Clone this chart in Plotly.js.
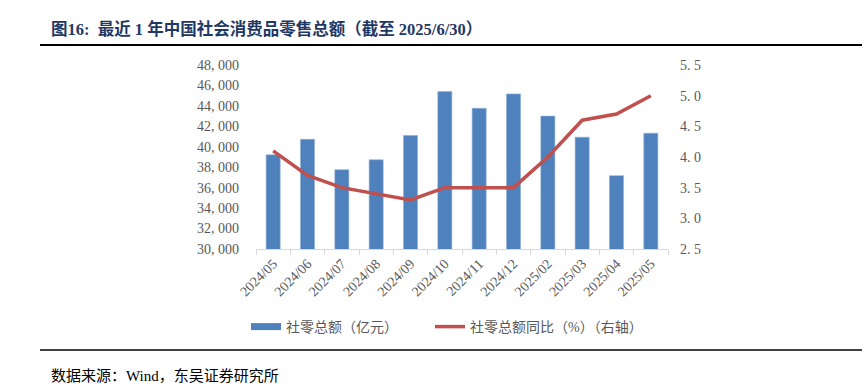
<!DOCTYPE html>
<html>
<head>
<meta charset="utf-8">
<script src="https://cdn.plot.ly/plotly-3.0.1.min.js"></script>
<style>
html,body{margin:0;padding:0;background:#fff;}
#chart{width:867px;height:388px;}
</style>
</head>
<body>
<div id="chart"></div>
<script>
// ---- data ----
const months = ["2024/05","2024/06","2024/07","2024/08","2024/09","2024/10","2024/11","2024/12","2025/02","2025/03","2025/04","2025/05"];
const retailTotal = [39211,40732,37757,38726,41112,45396,43763,45172,43000,40940,37174,41326];
const retailYoY = [4.1,3.7,3.5,3.4,3.3,3.5,3.5,3.5,4.0,4.6,4.7,5.0];
const leftTickVals = [30000,32000,34000,36000,38000,40000,42000,44000,46000,48000];
const leftTickText = ["30, 000","32, 000","34, 000","36, 000","38, 000","40, 000","42, 000","44, 000","46, 000","48, 000"];
const rightTickVals = [2.5,3.0,3.5,4.0,4.5,5.0,5.5];
const rightTickText = ["2. 5","3. 0","3. 5","4. 0","4. 5","5. 0","5. 5"];
const barName = "社零总额（亿元）";
const lineName = "社零总额同比（%）（右轴）";
const titleText = "图16:  最近 1 年中国社会消费品零售总额（截至 2025/6/30）";
const sourceText = "数据来源：Wind，东吴证券研究所";

// ---- layout geometry ----
const W = 867, H = 388;
const L = 256, R = 668, T = 65, B = 249;
const px = x => (x - L) / (R - L);
const py = y => (B - y) / (B - T);

const serif = "Liberation Serif, Noto Sans CJK SC, serif";
const gray = "#595959";
const blue = "#4f81bd";
const red = "#c0504d";

const traces = [
  {type:"bar", x:months, y:retailTotal, name:barName, showlegend:false,
   marker:{color:blue, line:{color:"#8fb0d8", width:0.6}}, yaxis:"y", hoverinfo:"x+y"},
  {type:"scatter", mode:"lines", x:[null], y:[null], name:barName, showlegend:true,
   line:{color:blue, width:7}, yaxis:"y", hoverinfo:"skip"},
  {type:"scatter", mode:"lines", x:months, y:retailYoY, name:lineName,
   line:{color:red, width:3.5}, yaxis:"y2"},
  {type:"scatter", mode:"lines", x:[null], y:[null], name:" ", showlegend:true,
   line:{color:"rgba(0,0,0,0)", width:0}, yaxis:"y", hoverinfo:"skip"}
];

const layout = {
  width:W, height:H,
  margin:{l:L, r:W-R, t:T, b:H-B, pad:0},
  paper_bgcolor:"#fff", plot_bgcolor:"#fff",
  bargap:0.59,
  showlegend:true,
  legend:{orientation:"h", x:px(246), xanchor:"left", y:py(327), yanchor:"middle",
          font:{family:serif, size:14, color:gray}, entrywidth:139, entrywidthmode:"pixels",
          itemwidth:30, traceorder:"normal", bgcolor:"rgba(0,0,0,0)"},
  xaxis:{type:"category", showgrid:false, zeroline:false,
         showline:true, linecolor:"#d9d9d9", linewidth:1,
         ticks:"outside", tickson:"boundaries", ticklen:5, tickcolor:"#d9d9d9",
         tickangle:-45, tickfont:{family:serif, size:14, color:gray}},
  yaxis:{range:[30000,48000], tickvals:leftTickVals, ticktext:leftTickText,
         showgrid:false, zeroline:false, showline:false, ticks:"",
         ticklabelstandoff:16,
         tickfont:{family:serif, size:14, color:gray}},
  yaxis2:{range:[2.5,5.5], tickvals:rightTickVals, ticktext:rightTickText,
          overlaying:"y", side:"right", showgrid:false, zeroline:false, showline:false, ticks:"",
          ticklabelstandoff:11,
          tickfont:{family:serif, size:14, color:gray}},
  shapes:[
    {type:"line", xref:"paper", yref:"paper", x0:px(40), x1:px(862), y0:py(45), y1:py(45),
     line:{color:"#000", width:2}},
    {type:"line", xref:"paper", yref:"paper", x0:px(40), x1:px(862), y0:py(350), y1:py(350),
     line:{color:"#000", width:1.5}}
  ],
  annotations:[
    {xref:"paper", yref:"paper", x:px(49), y:py(29), xanchor:"left", yanchor:"middle",
     text:"<b>"+titleText+"</b>", showarrow:false,
     font:{family:serif, size:16.5, color:"#1f3864"}},
    {xref:"paper", yref:"paper", x:px(49), y:py(376), xanchor:"left", yanchor:"middle",
     text:sourceText, showarrow:false,
     font:{family:serif, size:15, color:"#000"}}
  ]
};

Plotly.newPlot("chart", traces, layout, {displayModeBar:false, staticPlot:true});
</script>
</body>
</html>
